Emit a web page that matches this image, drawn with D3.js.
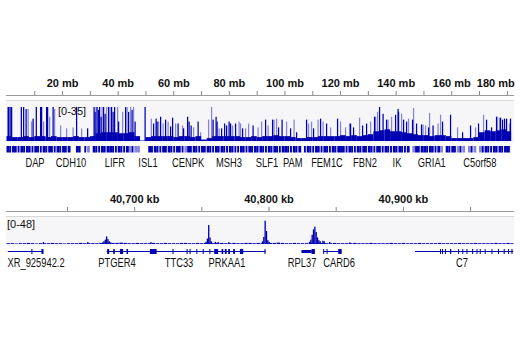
<!DOCTYPE html>
<html><head><meta charset="utf-8">
<script src="https://cdn.jsdelivr.net/npm/d3@7"></script>
<style>
body{margin:0;background:#fff;}
svg{display:block;}
text{font-family:"Liberation Sans",Arial,Helvetica,sans-serif;fill:#111;}
</style></head>
<body>
<svg id="c" width="520" height="350"></svg>
<script>
// ---------- DATA: top panel (chromosome 5, mb) ----------
const topTicks = d3.range(10, 181, 10);           // tick marks, labelled every 20 mb
const topRange = [0, 35];
// dark (mean) fill per 2 mb bin
const topBase = [5,4,4,5,4,5,5,4,5,4,4,4,5,4,4,5,
  8,9,9,9,8,8,9,5, 0.5,
  4,5,5,5,5,4,5,5,4,5,1.5, 3,
  5,5,5,5,5,4,4,5,4,5,5,6,5,5,
  4,3,3,4,4,
  5,5,5,5,6,5,6,5,6,7,
  10,11,12,10,10,9,8,
  7,6,6,5,6,6,5,
  3,3,3,3,4,
  9,11,10,11,12,10];
// light (max) spikes [mb, value]
const topMaxSpikes = [[7.55,33],[8.81,20],[13.13,20],[15.29,25],[17.09,33],[19.24,16],[21.4,13],[23.74,14],[26.8,13],[32.01,35],[34.17,35],[35.79,35],[37.05,35],[39.75,35],[41.55,30],[43.17,35],[44.42,35],[45.5,35],
  [51.87,23],[54.5,20],[56.12,18],[57.91,20],[60.61,18],[63.13,16],[67.09,14],[69.6,9],[72.48,22],[73.56,35],[76.26,13],[81.12,16],[83.45,20],[83.99,18],[85.79,13],[86.87,18],[90.29,14],
  [91.55,20],[93.88,16],[96.04,22],[96.94,23],[100.54,20],[103.24,22],[108.45,18],[109.53,20],[111.87,22],[113.67,20],[116.37,14],[119.96,20],[121.76,14],[123.2,18],[126.8,24],[130.76,20],[132.55,25],[133.27,30],[137.05,22],
  [138.31,25],[141.91,28],[144.42,23],[146.22,34],[149.64,17],[150.54,16],[151.98,29],[155.04,18],[155.94,27],[162.05,14],[168.53,14],[171.4,27],[176.26,25],[177.16,24],[180.76,18]];
// dark (mean) spikes [mb, value]
const topMeanSpikes = [[0.36,35],[0.54,35],[1.08,35],[1.62,35],[5.11,35],[5.94,35],[6.83,33],[9.35,23],[10.5,35],[12.05,35],[12.41,35],[14.21,35],[14.57,35],[16.55,35],[25.0,35],[28.96,13],
  [31.29,35],[31.65,30],[32.37,35],[32.91,32],[33.27,35],[33.81,25],[34.71,35],[35.25,28],[36.51,35],[37.59,35],[38.13,30],[38.67,35],[40.11,20],[42.63,35],[43.71,30],[44.96,32],[46.04,20],
  [49.64,35],[52.7,18],[53.6,23],[53.96,20],[55.22,25],[57.01,22],[58.81,15],[59.53,24],[61.51,18],[63.49,13],[64.93,25],[65.47,20],[66.19,16],[68.71,20],[74.1,22],[75.18,25],[75.54,20],[77.16,13],[78.24,18],[78.96,16],[79.86,20],[80.4,18],[82.19,18],[84.71,13],[88.49,16],
  [92.99,22],[95.5,22],[97.66,14],[98.92,22],[101.98,13],[104.14,9],[107.73,22],[110.25,13],[112.77,23],[114.93,18],[118.88,23],[123.56,18],[124.64,14],[127.88,16],[129.32,18],[132.19,25],[133.99,35],[135.25,28],[136.51,22],
  [139.75,27],[140.65,33],[140.83,30],[142.63,22],[143.71,20],[145.86,22],[147.3,18],[149.1,17],[151.62,14],[153.24,16],[156.65,20],[159.53,27],[163.85,9],[166.73,16],[169.6,18],[172.48,22],[174.28,14],[176.08,25],[177.52,24],[178.24,22],[178.96,23],[179.68,23],[181.1,23]];
// gene density per mb: 1 gene, 2 gene with gap, 3 light, 0 none
const topGenes = "1212212122"+"1221212212"+"1210012023"+"0122121122"+"1221323300"+
  "0121221212"+"2122312122"+"1212212122"+"1222122121"+"2122121221"+
  "1221210212"+"2122122121"+"1221221212"+"1221221221"+"2122103121"+
  "1212213012"+"1232303230"+"3212212121"+"12";
const topGeneLabels = [["DAP",10.25],["CDH10",23.2],["LIFR",39],["ISL1",50.9],["CENPK",65.3],["MSH3",80],["SLF1",93.7],["PAM",103],["FEM1C",115.3],["FBN2",129],["IK",140.5],["GRIA1",153],["C5orf58",170.3]];

// ---------- DATA: bottom panel (kb) ----------
const botTicks = d3.range(40650, 40951, 50);
const botRange = [0, 48];
const botNoiseStart = 40605, botNoiseStep = 3;
const botNoise = [1.5,1.5,1,1.5,1.5,2,1.5,1,1.5,1.5, 1.5,2,1.5,1.5,1,1.5,1.5,1.5,2,1.5, 1.5,1.5,1.5,2,1.5,1.5,2,2,2.5,2, 1.5,1.5,2,1.5,1.5,1.5,2,1.5,1.5,2, 1.5,1.5,1.5,2,2,1.5,1.5,2,1.5,2,
  2,1.5,2,2,1.5,1.5,2,1.5,1.5,2, 2,1.5,2,1.5,1.5,2,2,2.5,2,1.5, 1.5,2,1.5,1.5,1.5,2,1.5,1.5,2,1.5, 1.5,2,1.5,1.5,1.5,1.5,2,1.5,1.5,1.5, 2,1.5,1.5,1.5,1.5,2,1.5,1.5,2,1.5,
  1.5,1.5,2,1.5,1.5,1.5,1.5,2,1.5,1.5, 1.5,1.5,2,1.5,1.5,1.5,2,1.5,1.5,1.5, 1.5,2,1.5,1.5,2,1.5];
const botPeaks = [[40676,3],[40677,5],[40678,8],[40679,14],[40680,9],[40681,5],[40682,3],
  [40753,4],[40754,10],[40755,35],[40756,12],[40757,5],
  [40795,5],[40796,13],[40797,43],[40798,24],[40799,7],[40800,4],
  [40830,4],[40831,8],[40832,17],[40833,27],[40834,32],[40835,22],[40836,12],[40837,7],[40838,5],
  [40840,6],[40841,5],[40632,3.5],[40665,3.5],[40712,3.5],[40760,4],[40762,3.5],[40770,3.5],[40845,3.5],[40860,3]];
const botGenes = [
 {start:40606,end:40632.5,exons:[[40623.5,40624.3,1],[40631,40632.5,1]]},
 {start:40679.5,end:40711.5,exons:[[40679.9,40681.4,1],[40684.4,40685.6,1],[40689.4,40691.8,1],[40694.3,40695.5,1]]},
 {start:40711.5,end:40759,exons:[[40711.7,40716.7,1],[40728.5,40729.3,1],[40739,40739.8,1],[40741.2,40742,1],[40746.3,40747,1],[40751,40751.8,1],[40756,40756.6,1]]},
 {start:40759,end:40797.8,exons:[[40759.6,40762.5,1],[40765.1,40766.3,1],[40767.5,40768.8,1],[40770,40771.3,1],[40773.7,40775,1],[40778.7,40781.2,1],[40797,40797.8,1]]},
 {start:40824.6,end:40834.5,exons:[[40824.6,40832,0],[40832,40834.5,1]]},
 {start:40840.7,end:40854.4,exons:[[40840.7,40841.3,1],[40843.2,40843.8,1],[40851.9,40854.4,1]]},
 {start:40909,end:40982.2,exons:[[40927.6,40928.2,1],[40929.1,40929.7,1],[40931.3,40931.9,1],[40935.1,40936,1],[40941.1,40941.7,1],[40944.2,40944.8,1],[40947.3,40947.9,1],[40951.5,40952.3,1],[40954.8,40955.4,1],[40957.2,40957.8,1],[40960.9,40961.5,1],[40965.9,40966.5,1],[40970.8,40971.4,1],[40975,40975.8,1],[40978.3,40978.9,1],[40980.8,40981.6,1]]}
];
const botGeneLabels = [["XR_925942.2",40627],["PTGER4",40687.2],["TTC33",40733.4],["PRKAA1",40769.1],["RPL37",40825],["CARD6",40852.5],["C7",40944]];

// ---------- DRAW ----------
const DARK = "#0000b2", LIGHT = "#8484dc", GENE = "#0000b2";
const svg = d3.select("#c");
const CONDENSE = 0.78;

function panel(cfg){
  const g = svg.append("g");
  const x = cfg.x;
  const ax = d3.axisTop(x).tickValues(cfg.ticks).tickSize(4).tickSizeOuter(0).tickFormat(cfg.fmt);
  const ag = g.append("g").attr("transform",`translate(0,${cfg.axisY})`).call(ax);
  ag.select(".domain").remove();
  ag.selectAll(".tick line").attr("stroke","#888");
  ag.selectAll(".tick text").attr("font-size","11px").attr("font-weight","bold").attr("fill","#222").attr("dy","-1px");
  ag.selectAll(".tick text").each(function(){
    const bb=this.getBBox(); const t=d3.select(this.parentNode).attr("transform");
    const tx=+t.match(/translate\(([-\d.]+)/)[1];
    if(tx+bb.x+bb.width>515) d3.select(this).attr("x",515-(tx+bb.x+bb.width));
  });
  g.append("line").attr("x1",6).attr("x2",514).attr("y1",cfg.axisY+0.5).attr("y2",cfg.axisY+0.5).attr("stroke","#9a9a9a");
  g.append("line").attr("x1",6).attr("x2",514).attr("y1",cfg.panelTop+0.5).attr("y2",cfg.panelTop+0.5).attr("stroke","#d8d8d8");
  g.append("rect").attr("x",6).attr("width",508).attr("y",cfg.panelTop+1).attr("height",cfg.baseY-cfg.panelTop+1).attr("fill","#f6f6f8");
  return g;
}
function geneLabels(g, data, x, y){
  g.append("g").selectAll("text").data(data).join("text")
    .attr("transform",d=>`translate(${x(d[1])},${y}) scale(${CONDENSE},1)`)
    .attr("text-anchor","middle").attr("font-size","12px").text(d=>d[0]);
}

// top panel
const xT = d3.scaleLinear().domain([0,181.5]).range([6.5,511]);
const yT = d3.scaleLinear().domain(topRange).range([141,107]).clamp(true);
const gT = panel({x:xT,ticks:topTicks,fmt:d=>d%20===0?d+" mb":"",axisY:95,panelTop:100,baseY:141});
const sw = 0.45;
gT.append("g").selectAll("rect").data(topMaxSpikes).join("rect")
  .attr("x",d=>xT(d[0])).attr("width",d=>xT(d[0]+sw)-xT(d[0])).attr("y",d=>yT(d[1])).attr("height",d=>yT(0)-yT(d[1])).attr("fill",LIGHT);
gT.append("g").selectAll("rect").data(topBase).join("rect")
  .attr("x",(d,i)=>xT(i*2)).attr("width",(d,i)=>xT(Math.min(i*2+2,181.5))-xT(i*2)+0.1).attr("y",d=>yT(d)).attr("height",d=>yT(0)-yT(d)).attr("fill",DARK);
gT.append("g").selectAll("rect").data(topMeanSpikes).join("rect")
  .attr("x",d=>xT(d[0])).attr("width",d=>xT(d[0]+sw)-xT(d[0])).attr("y",d=>yT(d[1])).attr("height",d=>yT(0)-yT(d[1])).attr("fill",DARK);
gT.append("text").attr("x",58).attr("y",115).attr("font-size","11px").text(`[${topRange[0]}-${topRange[1]}]`);
const cells = topGenes.split("").map((c,i)=>({c,i})).filter(d=>d.c!=="0");
gT.append("g").selectAll("rect").data(cells).join("rect")
  .attr("x",d=>xT(d.i)).attr("width",d=>xT(Math.min(d.i+1,181.5))-xT(d.i)-(d.c==="2"?0.9:0)+(d.c==="1"?0.1:0))
  .attr("y",146).attr("height",6.5).attr("fill",d=>d.c==="3"?LIGHT:GENE);
geneLabels(gT, topGeneLabels, xT, 166.5);

// bottom panel
const xB = d3.scaleLinear().domain([40605,40982.7]).range([6.5,514]);
const yB = d3.scaleLinear().domain(botRange).range([244,218]).clamp(true);
const gB = panel({x:xB,ticks:botTicks,fmt:d=>d%100===0?d3.format(",")(d)+" kb":"",axisY:211,panelTop:216,baseY:244});
gB.append("g").selectAll("rect").data(botNoise).join("rect")
  .attr("x",(d,i)=>xB(botNoiseStart+i*botNoiseStep)).attr("width",(d,i)=>Math.min(xB(botNoiseStart+(i+1)*botNoiseStep),514)-xB(botNoiseStart+i*botNoiseStep)-0.6)
  .attr("y",d=>yB(d)).attr("height",d=>yB(0)-yB(d)).attr("fill",DARK);
gB.append("g").selectAll("rect").data(botPeaks).join("rect")
  .attr("x",d=>xB(d[0])).attr("width",d=>xB(d[0]+1)-xB(d[0])).attr("y",d=>yB(d[1])).attr("height",d=>yB(0)-yB(d[1])).attr("fill",DARK);
gB.append("text").attr("x",7).attr("y",228).attr("font-size","11px").text(`[${botRange[0]}-${botRange[1]}]`);
const gy = 251;
const gg = gB.append("g");
gg.selectAll("line").data(botGenes).join("line")
  .attr("x1",d=>xB(d.start)).attr("x2",d=>Math.min(xB(d.end),514)).attr("y1",gy+0.5).attr("y2",gy+0.5).attr("stroke",GENE).attr("stroke-width",1);
gg.selectAll("g").data(botGenes).join("g").selectAll("rect").data(d=>d.exons).join("rect")
  .attr("x",e=>xB(e[0])).attr("width",e=>Math.max(1,xB(e[1])-xB(e[0])))
  .attr("y",e=>e[2]?gy-2:gy-1).attr("height",e=>e[2]?5:3).attr("fill",GENE);
geneLabels(gB, botGeneLabels, xB, 266.5);
</script>
</body></html>
